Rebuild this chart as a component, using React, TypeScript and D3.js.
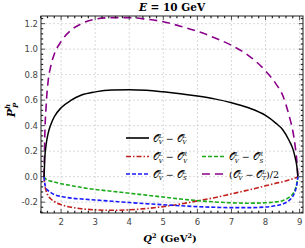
import React, { useEffect, useRef } from "react";
import * as d3 from "d3";

const xTicks = [2, 3, 4, 5, 6, 7, 8, 9];
const yTicks = [-0.2, 0.0, 0.2, 0.4, 0.6, 0.8, 1.0, 1.2];

const q2 = [1.5, 1.52, 1.56, 1.62, 1.7, 1.8, 2.0, 2.3, 2.6, 3.0, 3.5, 4.0, 4.5, 5.0, 5.5, 6.0, 6.5, 7.0, 7.5, 8.0, 8.3, 8.5, 8.7, 8.8, 8.87, 8.92, 8.95];

const vvSame = [0, 0.14, 0.25, 0.34, 0.41, 0.47, 0.54, 0.6, 0.64, 0.665, 0.68, 0.682, 0.677, 0.665, 0.65, 0.632, 0.61, 0.58, 0.54, 0.48, 0.42, 0.37, 0.28, 0.22, 0.15, 0.08, 0];
const vvHalfT = [0, 0.3, 0.55, 0.75, 0.87, 0.96, 1.06, 1.15, 1.2, 1.235, 1.247, 1.247, 1.235, 1.215, 1.18, 1.14, 1.09, 1.03, 0.95, 0.83, 0.73, 0.64, 0.47, 0.36, 0.24, 0.12, 0];
const vvRight = [0, -0.06, -0.11, -0.15, -0.175, -0.195, -0.22, -0.24, -0.252, -0.26, -0.264, -0.26, -0.25, -0.235, -0.215, -0.19, -0.165, -0.135, -0.105, -0.072, -0.052, -0.04, -0.025, -0.017, -0.01, -0.005, 0];
const vsRight = [0, -0.01, -0.02, -0.03, -0.035, -0.042, -0.055, -0.07, -0.085, -0.1, -0.115, -0.13, -0.145, -0.16, -0.175, -0.188, -0.198, -0.205, -0.208, -0.205, -0.198, -0.188, -0.16, -0.135, -0.1, -0.05, 0];
const vsLeft = [0, -0.05, -0.09, -0.11, -0.125, -0.14, -0.155, -0.168, -0.175, -0.183, -0.193, -0.203, -0.212, -0.22, -0.228, -0.235, -0.24, -0.243, -0.243, -0.238, -0.228, -0.215, -0.185, -0.155, -0.115, -0.06, 0];

const series = [
  { key: "vvRight", values: vvRight, color: "#c0201c", dash: "5,2,1.5,2" },
  { key: "vsRight", values: vsRight, color: "#1aaa1a", dash: "4,2" },
  { key: "vsLeft", values: vsLeft, color: "#1a1aff", dash: "4,2" },
  { key: "vvHalfT", values: vvHalfT, color: "#8b008b", dash: "8,5" },
  { key: "vvSame", values: vvSame, color: "#000000", dash: null },
];

const W = 305;
const H = 248;
const margin = { left: 41, right: 2, top: 16, bottom: 35 };

export default function App() {
  const ref = useRef<SVGSVGElement>(null);

  useEffect(() => {
    const svg = d3.select(ref.current);
    svg.selectAll("*").remove();

    const x = d3.scaleLinear().domain([1.41, 9.1]).range([margin.left, W - margin.right]);
    const y = d3.scaleLinear().domain([-0.285, 1.26]).range([H - margin.bottom, margin.top]);

    const g = svg.append("g");

    // grid
    g.selectAll(".gx")
      .data(xTicks)
      .enter()
      .append("line")
      .attr("x1", (d) => x(d))
      .attr("x2", (d) => x(d))
      .attr("y1", margin.top)
      .attr("y2", H - margin.bottom)
      .attr("stroke", "#c8c8c8")
      .attr("stroke-width", 0.7)
      .attr("stroke-dasharray", "2,2");
    g.selectAll(".gy")
      .data(yTicks)
      .enter()
      .append("line")
      .attr("x1", margin.left)
      .attr("x2", W - margin.right)
      .attr("y1", (d) => y(d))
      .attr("y2", (d) => y(d))
      .attr("stroke", "#c8c8c8")
      .attr("stroke-width", 0.7)
      .attr("stroke-dasharray", "2,2");

    // curves
    const line = d3
      .line<number>()
      .x((d, i) => x(q2[i]))
      .y((d) => y(d))
      .curve(d3.curveMonotoneX);

    series.forEach((s) => {
      g.append("path")
        .attr("d", line(s.values))
        .attr("fill", "none")
        .attr("stroke", s.color)
        .attr("stroke-width", s.dash ? 1.6 : 1.5)
        .attr("stroke-dasharray", s.dash);
    });

    // frame
    const x0 = margin.left;
    const x1 = W - margin.right;
    const y0 = H - margin.bottom;
    const y1 = margin.top;
    g.append("rect")
      .attr("x", x0)
      .attr("y", y1)
      .attr("width", x1 - x0)
      .attr("height", y0 - y1)
      .attr("fill", "none")
      .attr("stroke", "#222")
      .attr("stroke-width", 1);

    // ticks
    const xMinor = d3.range(1.4, 9.11, 0.2).map((v) => +v.toFixed(2));
    const yMinor = d3.range(-0.28, 1.27, 0.04).map((v) => +v.toFixed(2));
    const tk = g.append("g").attr("stroke", "#222");
    xMinor.forEach((v) => {
      const major = xTicks.some((t) => Math.abs(t - v) < 1e-6);
      const len = major ? 4 : 2.2;
      tk.append("line").attr("x1", x(v)).attr("x2", x(v)).attr("y1", y0).attr("y2", y0 - len).attr("stroke-width", major ? 0.8 : 1.2);
      tk.append("line").attr("x1", x(v)).attr("x2", x(v)).attr("y1", y1).attr("y2", y1 + len).attr("stroke-width", major ? 0.8 : 1.2);
    });
    yMinor.forEach((v) => {
      const major = yTicks.some((t) => Math.abs(t - v) < 1e-6);
      const len = major ? 4 : 2.2;
      tk.append("line").attr("x1", x0).attr("x2", x0 + len).attr("y1", y(v)).attr("y2", y(v)).attr("stroke-width", major ? 0.8 : 1.2);
      tk.append("line").attr("x1", x1).attr("x2", x1 - len).attr("y1", y(v)).attr("y2", y(v)).attr("stroke-width", major ? 0.8 : 1.2);
    });

    // tick labels
    g.selectAll(".xl")
      .data(xTicks)
      .enter()
      .append("text")
      .attr("x", (d) => x(d))
      .attr("y", y0 + 12)
      .attr("text-anchor", "middle")
      .attr("font-family", "DejaVu Sans, sans-serif")
      .attr("font-size", 8.5)
      .attr("fill", "#444")
      .text((d) => d);
    g.selectAll(".yl")
      .data(yTicks)
      .enter()
      .append("text")
      .attr("x", x0 - 3)
      .attr("y", (d) => y(d) + 3)
      .attr("text-anchor", "end")
      .attr("font-family", "DejaVu Sans, sans-serif")
      .attr("font-size", 8.5)
      .attr("fill", "#444")
      .text((d) => d.toFixed(1));
  }, []);

  const O = "𝒪";
  const ser = { fontFamily: "DejaVu Serif, serif" };
  const legendRow = (lx: number, ly: number, lineLen: number, color: string, dash: string | null, sub: string, sup: string, sub2: string, sup2: string, half: boolean) => (
    <g>
      <line x1={lx} x2={lx + lineLen} y1={ly} y2={ly} stroke={color} strokeWidth={1.6} strokeDasharray={dash ?? undefined} />
      <text x={lx + lineLen + 4} y={ly + 3.5} fontSize={9.5} {...ser} fill="#000">
        {half ? "(" : ""}
        {O}
        <tspan fontSize={5.5} fontStyle="italic" dy={-4}>{sup}</tspan>
        <tspan fontSize={5.5} fontStyle="italic" dx={-3.3} dy={6.5}>{sub}</tspan>
        <tspan dy={-2.5}> − {O}</tspan>
        <tspan fontSize={5.5} fontStyle="italic" dy={-4}>{sup2}</tspan>
        <tspan fontSize={5.5} fontStyle="italic" dx={-3.3} dy={6.5}>{sub2}</tspan>
        {half ? <tspan dy={-2.5}>)/2</tspan> : null}
      </text>
    </g>
  );

  return (
    <div style={{ position: "absolute", left: 0, top: 0 }}>
      <svg ref={ref} width={W} height={H} style={{ position: "absolute", left: 0, top: 0 }} />
      <svg width={W} height={H} style={{ position: "absolute", left: 0, top: 0 }}>
        <text x={172} y={11} textAnchor="middle" fontSize={10.5} fontWeight="bold" {...ser}>
          <tspan fontStyle="italic">E</tspan> = 10 GeV
        </text>
        <text transform="translate(15,110) rotate(-90)" textAnchor="middle" fontSize={11} fontWeight="bold" {...ser}>
          <tspan fontStyle="italic">P</tspan>
          <tspan fontSize={7} fontStyle="italic" dy={-5}>h</tspan>
          <tspan fontSize={7} fontStyle="italic" dx={-4} dy={8}>P</tspan>
        </text>
        <text x={170} y={242} textAnchor="middle" fontSize={10} fontWeight="bold" {...ser}>
          <tspan fontStyle="italic">Q</tspan>
          <tspan fontSize={6.5} dy={-4}>2</tspan>
          <tspan dy={4}> (GeV</tspan>
          <tspan fontSize={6.5} dy={-4}>2</tspan>
          <tspan dy={4}>)</tspan>
        </text>
        {legendRow(126, 138, 23, "#000", null, "V", "L", "V", "L", false)}
        {legendRow(126, 156.5, 23, "#c0201c", "5,2,1.5,2", "V", "L", "V", "R", false)}
        {legendRow(202, 156.5, 23, "#1aaa1a", "4,2", "V", "L", "S", "R", false)}
        {legendRow(126, 174, 23, "#1a1aff", "4,2", "V", "L", "S", "L", false)}
        {legendRow(202, 174, 23, "#8b008b", "8,5", "V", "L", "T", "L", true)}
      </svg>
    </div>
  );
}
